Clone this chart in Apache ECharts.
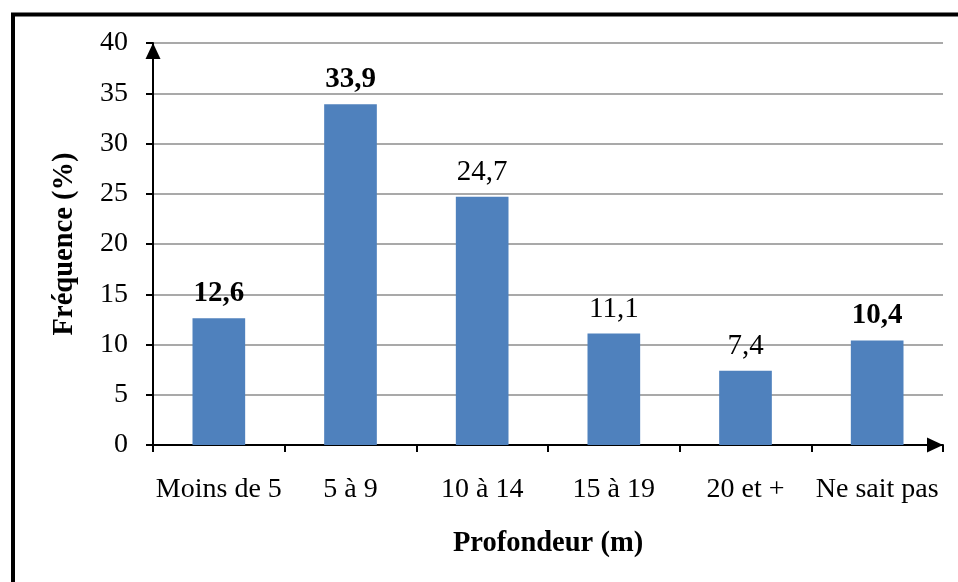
<!DOCTYPE html>
<html><head><meta charset="utf-8">
<script src="https://cdn.jsdelivr.net/npm/echarts@6/dist/echarts.min.js"></script>
<style>html,body{margin:0;padding:0;background:#fff}#c{width:958px;height:582px}</style>
</head><body><div id="c"></div>
<script>
var categories = ['Moins de 5', '5 à 9', '10 à 14', '15 à 19', '20 et +', 'Ne sait pas'];
var values = [12.6, 33.9, 24.7, 11.1, 7.4, 10.4];
var boldLabels = [true, true, false, false, false, true];
var yTicks = [0, 5, 10, 15, 20, 25, 30, 35, 40];
var xName = 'Profondeur (m)';
var yName = 'Fréquence (%)';

var FONT = "'Liberation Serif','Times New Roman',serif";
var chart = echarts.init(document.getElementById('c'), null, {renderer: 'canvas'});
var data = values.map(function (v, i) {
  return {value: v, label: {fontWeight: boldLabels[i] ? 'bold' : 'normal'}};
});
chart.setOption({
  animation: false,
  backgroundColor: '#fff',
  graphic: [{
    type: 'rect', silent: true,
    shape: {x: 13, y: 14.5, width: 1200, height: 1200},
    style: {fill: 'none', stroke: '#000', lineWidth: 4}
  }],
  grid: {left: 153, right: 15, top: 43, bottom: 137, containLabel: false},
  xAxis: {
    type: 'category', data: categories,
    name: xName, nameLocation: 'middle', nameGap: 84,
    nameTextStyle: {fontFamily: FONT, fontSize: 28.5, fontWeight: 'bold', color: '#000'},
    axisLine: {show: true, lineStyle: {color: '#000', width: 2}, symbol: ['none', 'triangle'], symbolSize: [15, 16], symbolOffset: [0, -8]},
    axisTick: {show: true, alignWithLabel: false, length: 7, lineStyle: {color: '#000', width: 2}},
    axisLabel: {fontFamily: FONT, fontSize: 28, color: '#000', margin: 31, interval: 0},
    splitLine: {show: false}
  },
  yAxis: {
    type: 'value', min: 0, max: 40, interval: 5,
    name: yName, nameLocation: 'middle', nameGap: 74, nameRotate: 90,
    nameTextStyle: {fontFamily: FONT, fontSize: 28.5, fontWeight: 'bold', color: '#000'},
    axisLine: {show: true, lineStyle: {color: '#000', width: 2}, symbol: ['none', 'triangle'], symbolSize: [15, 16], symbolOffset: [0, -8]},
    axisTick: {show: true, length: 7, lineStyle: {color: '#000', width: 2}},
    axisLabel: {fontFamily: FONT, fontSize: 28, color: '#000', margin: 25,
      formatter: function (v) { return yTicks.indexOf(v) >= 0 ? String(v) : ''; }},
    splitLine: {show: true, lineStyle: {color: '#8c8c8c', width: 1.5}}
  },
  series: [{
    type: 'bar', data: data, barWidth: '40%',
    itemStyle: {color: '#4F81BD'},
    label: {show: true, position: 'top', distance: 10, fontFamily: FONT, fontSize: 29, color: '#000',
      formatter: function (p) { return String(p.value).replace('.', ','); }}
  }]
});
</script></body></html>
